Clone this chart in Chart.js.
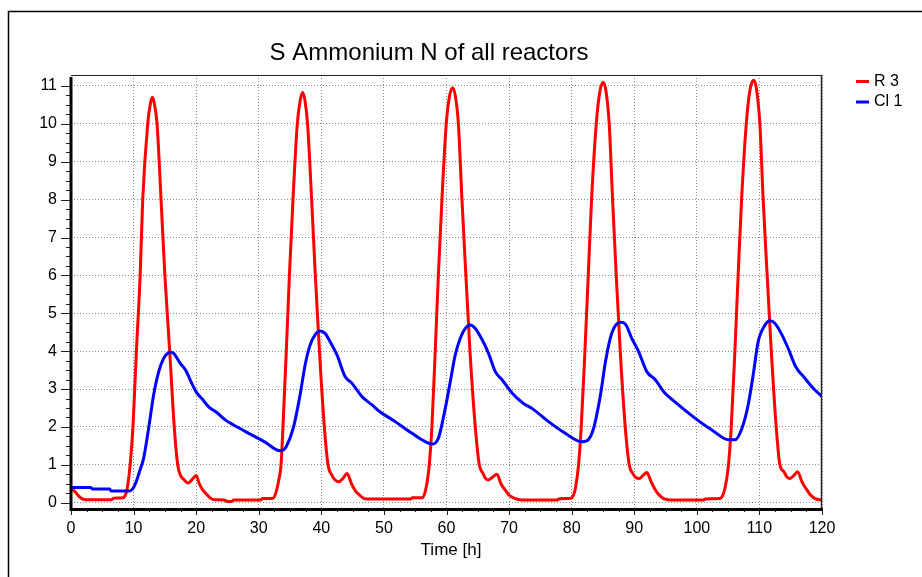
<!DOCTYPE html>
<html>
<head>
<meta charset="utf-8">
<script src="https://cdn.jsdelivr.net/npm/chart.js@4/dist/chart.umd.min.js"></script>
<style>
html,body{margin:0;padding:0;background:#fff;}
canvas{display:block;}
</style>
</head>
<body>
<canvas id="c" width="922" height="577"></canvas>
<script>
const chartTitle = 'S Ammonium N of all reactors';
const xAxisTitle = 'Time [h]';
const seriesNames = ['R 3', 'Cl 1'];
const seriesColors = ['#ff0000', '#0000ff'];
const xTickValues = [0, 10, 20, 30, 40, 50, 60, 70, 80, 90, 100, 110, 120];
const yTickValues = [0, 1, 2, 3, 4, 5, 6, 7, 8, 9, 10, 11];

const r3Time = [0, 0.6, 1.2, 1.8, 2.5, 6.5, 6.8, 8.3, 8.8, 9.1, 9.45, 9.9, 10.45, 11.05, 11.46, 12.26, 12.7, 13.0, 13.3, 13.75, 14.39, 15.0, 15.77, 16.5, 17.05, 17.5, 18.0, 18.7, 19.4, 20.0, 20.5, 21.0, 21.5, 22.3, 23.0, 24.5, 25.0, 25.6, 26.0, 30.3, 30.6, 32.3, 32.8, 33.2, 33.56, 33.87, 34.4, 34.9, 35.47, 36.16, 36.6, 37.0, 37.4, 37.8, 38.45, 39.04, 39.7, 40.48, 41.07, 41.7, 42.2, 42.8, 43.5, 44.1, 44.9, 45.5, 46.0, 46.7, 47.3, 54.3, 54.5, 56.1, 56.6, 57.0, 57.25, 57.67, 58.2, 58.7, 59.27, 59.96, 60.5, 60.97, 61.4, 61.9, 62.47, 63.1, 63.75, 64.6, 65.24, 65.8, 66.2, 66.7, 67.4, 68.07, 68.7, 69.4, 70.0, 70.7, 72.0, 77.7, 77.9, 79.9, 80.3, 80.6, 81.1, 81.53, 82.12, 82.65, 83.18, 83.93, 84.5, 85.05, 85.5, 86.0, 86.54, 87.12, 87.76, 88.56, 89.2, 89.73, 90.3, 90.8, 91.4, 92.0, 92.7, 93.4, 94.0, 94.7, 96.0, 101.1, 101.4, 103.7, 104.1, 104.5, 105.06, 105.5, 106.08, 106.6, 107.15, 107.9, 108.5, 109.06, 109.5, 110.07, 110.6, 111.24, 111.9, 112.68, 113.27, 113.9, 114.4, 114.9, 115.5, 116.1, 116.8, 117.6, 118.3, 118.9, 120];
const r3Values = [0.37, 0.3, 0.18, 0.1, 0.08, 0.08, 0.12, 0.13, 0.25, 0.5, 1.0, 2.0, 4.0, 6.0, 8.0, 10.0, 10.55, 10.7, 10.55, 10.0, 8.0, 6.0, 4.0, 2.0, 1.0, 0.72, 0.62, 0.52, 0.62, 0.72, 0.5, 0.35, 0.25, 0.12, 0.08, 0.07, 0.03, 0.03, 0.07, 0.07, 0.11, 0.12, 0.3, 0.6, 1.0, 2.0, 4.0, 6.0, 8.0, 10.0, 10.6, 10.83, 10.6, 10.0, 8.0, 6.0, 4.0, 2.0, 1.0, 0.72, 0.6, 0.55, 0.65, 0.77, 0.47, 0.3, 0.22, 0.12, 0.1, 0.1, 0.13, 0.13, 0.29, 0.65, 1.0, 2.0, 4.0, 6.0, 8.0, 10.0, 10.75, 10.95, 10.75, 10.0, 8.0, 6.0, 4.0, 2.0, 1.0, 0.78, 0.65, 0.6, 0.68, 0.75, 0.5, 0.33, 0.2, 0.13, 0.07, 0.07, 0.1, 0.12, 0.2, 0.38, 1.0, 2.0, 4.0, 6.0, 8.0, 10.0, 10.85, 11.1, 10.85, 10.0, 8.0, 6.0, 4.0, 2.0, 1.0, 0.78, 0.66, 0.64, 0.72, 0.8, 0.55, 0.33, 0.2, 0.11, 0.07, 0.07, 0.1, 0.11, 0.18, 0.38, 1.0, 2.0, 4.0, 6.0, 8.0, 10.0, 10.9, 11.15, 10.95, 10.0, 8.0, 6.0, 4.0, 2.0, 1.0, 0.82, 0.68, 0.64, 0.72, 0.82, 0.55, 0.33, 0.18, 0.11, 0.07];

const cl1Time = [0, 3.2, 3.4, 6.2, 6.4, 9.4, 10.0, 10.5, 11.0, 11.6, 12.4, 13.2, 14.0, 14.8, 15.5, 16.0, 16.4, 17.5, 18.3, 19.3, 20.1, 20.9, 22.0, 23.3, 24.7, 26.0, 28.4, 31.0, 33.4, 34.0, 34.4, 35.5, 36.6, 37.4, 38.2, 39.0, 39.8, 40.6, 41.4, 42.5, 43.8, 44.9, 46.5, 48.1, 49.2, 51.8, 54.5, 56.4, 57.7, 58.7, 59.8, 60.6, 61.4, 62.2, 63.0, 63.8, 64.6, 65.7, 66.7, 67.8, 68.9, 70.5, 72.3, 73.65, 76.3, 79.0, 81.6, 82.4, 83.5, 84.6, 85.4, 86.4, 87.8, 88.6, 89.6, 90.7, 92.0, 93.4, 94.7, 96.5, 99.8, 102.4, 105.1, 106.1, 107.2, 108.2, 109.0, 109.8, 110.9, 111.7, 112.5, 113.6, 114.6, 115.8, 117.3, 118.6, 120];
const cl1Values = [0.40, 0.40, 0.36, 0.36, 0.31, 0.31, 0.40, 0.59, 0.85, 1.17, 1.96, 2.84, 3.45, 3.81, 3.95, 3.97, 3.94, 3.67, 3.5, 3.15, 2.9, 2.75, 2.53, 2.38, 2.18, 2.05, 1.83, 1.6, 1.37, 1.4, 1.48, 1.96, 2.84, 3.63, 4.16, 4.43, 4.53, 4.47, 4.25, 3.9, 3.33, 3.15, 2.8, 2.58, 2.42, 2.14, 1.83, 1.63, 1.55, 1.7, 2.49, 3.19, 3.9, 4.34, 4.6, 4.69, 4.6, 4.3, 3.95, 3.46, 3.24, 2.89, 2.62, 2.49, 2.14, 1.83, 1.61, 1.63, 1.96, 2.84, 3.72, 4.47, 4.76, 4.71, 4.34, 3.99, 3.46, 3.24, 2.93, 2.66, 2.22, 1.92, 1.66, 1.66, 1.96, 2.58, 3.37, 4.25, 4.69, 4.8, 4.73, 4.43, 4.07, 3.59, 3.28, 3.02, 2.8];

const FONT = '"Liberation Sans", Arial, Helvetica, sans-serif';

function pairs(ts, vs) { return ts.map((t, i) => ({ x: t, y: vs[i] })); }

const decorPlugin = {
  id: 'decor',
  beforeDraw(chart) {
    const ctx = chart.ctx;
    ctx.save();
    ctx.fillStyle = '#fff';
    ctx.fillRect(0, 0, chart.width, chart.height);
    ctx.strokeStyle = '#000';
    ctx.lineWidth = 1.5;
    ctx.beginPath();
    ctx.moveTo(8.5, chart.height);
    ctx.lineTo(8.5, 11.5);
    ctx.lineTo(chart.width, 11.5);
    ctx.stroke();
    ctx.fillStyle = '#000';
    ctx.font = '24px ' + FONT;
    ctx.textAlign = 'center';
    ctx.textBaseline = 'alphabetic';
    ctx.fillText(chartTitle, 429, 60);
    ctx.restore();
  },
  afterDatasetsDraw(chart) {
    const { ctx, chartArea: a, scales } = chart;
    const xs = scales.x, ys = scales.y;
    ctx.save();
    ctx.strokeStyle = '#222';
    ctx.lineWidth = 1;
    ctx.beginPath();
    ctx.moveTo(a.left, a.top + 0.5);
    ctx.lineTo(a.right, a.top + 0.5);
    ctx.stroke();
    ctx.lineWidth = 1.5;
    ctx.beginPath();
    ctx.moveTo(a.right - 0.5, a.top);
    ctx.lineTo(a.right - 0.5, a.bottom);
    ctx.stroke();
    ctx.strokeStyle = '#222';
    ctx.lineWidth = 1;
    for (let v = 0; v <= 11.0001; v += 0.25) {
      const py = Math.round(ys.getPixelForValue(v)) + 0.5;
      const major = Math.abs(v - Math.round(v)) < 1e-6;
      ctx.beginPath();
      ctx.moveTo(a.left - (major ? 10 : 5), py);
      ctx.lineTo(a.left, py);
      ctx.stroke();
    }
    for (let t = 0; t <= 120.0001; t += 2.5) {
      const px = Math.round(xs.getPixelForValue(t)) + 0.5;
      const major = Math.abs(t / 10 - Math.round(t / 10)) < 1e-6;
      ctx.beginPath();
      ctx.moveTo(px, a.bottom);
      ctx.lineTo(px, a.bottom + (major ? 7 : 4));
      ctx.stroke();
    }
    ctx.strokeStyle = '#000';
    ctx.lineWidth = 3;
    ctx.beginPath();
    ctx.moveTo(a.left, a.top + 2);
    ctx.lineTo(a.left, a.bottom + 1.5);
    ctx.lineTo(a.right, a.bottom + 1.5);
    ctx.stroke();
    ctx.fillStyle = '#000';
    ctx.font = '17px ' + FONT;
    ctx.textAlign = 'center';
    ctx.textBaseline = 'middle';
    ctx.fillText(xAxisTitle, 451, 550);
    ctx.font = '16px ' + FONT;
    ctx.textAlign = 'left';
    chart.data.datasets.forEach((ds, i) => {
      const yy = 81.5 + i * 20.5;
      ctx.strokeStyle = ds.borderColor;
      ctx.lineWidth = 3;
      ctx.beginPath();
      ctx.moveTo(856, yy);
      ctx.lineTo(869, yy);
      ctx.stroke();
      ctx.fillStyle = '#000';
      ctx.fillText(ds.label, 874, yy);
    });
    ctx.restore();
  }
};

new Chart(document.getElementById('c'), {
  type: 'line',
  data: {
    datasets: [
      { label: seriesNames[0], data: pairs(r3Time, r3Values), borderColor: seriesColors[0], borderWidth: 3, pointRadius: 0, fill: false, cubicInterpolationMode: 'monotone', order: 1 },
      { label: seriesNames[1], data: pairs(cl1Time, cl1Values), borderColor: seriesColors[1], borderWidth: 3, pointRadius: 0, fill: false, cubicInterpolationMode: 'monotone', order: 0 }
    ]
  },
  options: {
    responsive: false,
    animation: false,
    devicePixelRatio: 1,
    layout: { padding: { left: 0, top: 75, right: 100, bottom: 0 } },
    plugins: { legend: { display: false }, title: { display: false }, tooltip: { enabled: false } },
    scales: {
      x: {
        type: 'linear', min: 0, max: 120,
        afterBuildTicks: s => { s.ticks = xTickValues.map(v => ({ value: v })); },
        afterFit: s => { s.height = 69; },
        ticks: { color: '#000', font: { family: FONT, size: 16 }, padding: 11, maxRotation: 0, autoSkip: false, callback: v => String(v) },
        grid: { color: '#8a8a8a', lineWidth: 1, drawTicks: false },
        border: { display: false, dash: [1, 2] }
      },
      y: {
        type: 'linear', min: -0.14, max: 11.29,
        afterBuildTicks: s => { s.ticks = yTickValues.map(v => ({ value: v })); },
        afterFit: s => { s.width = 71; },
        ticks: { color: '#000', font: { family: FONT, size: 16 }, padding: 14, autoSkip: false, callback: v => String(v) },
        grid: { color: '#8a8a8a', lineWidth: 1, drawTicks: false },
        border: { display: false, dash: [1, 2] }
      }
    }
  },
  plugins: [decorPlugin]
});
</script>
</body>
</html>
